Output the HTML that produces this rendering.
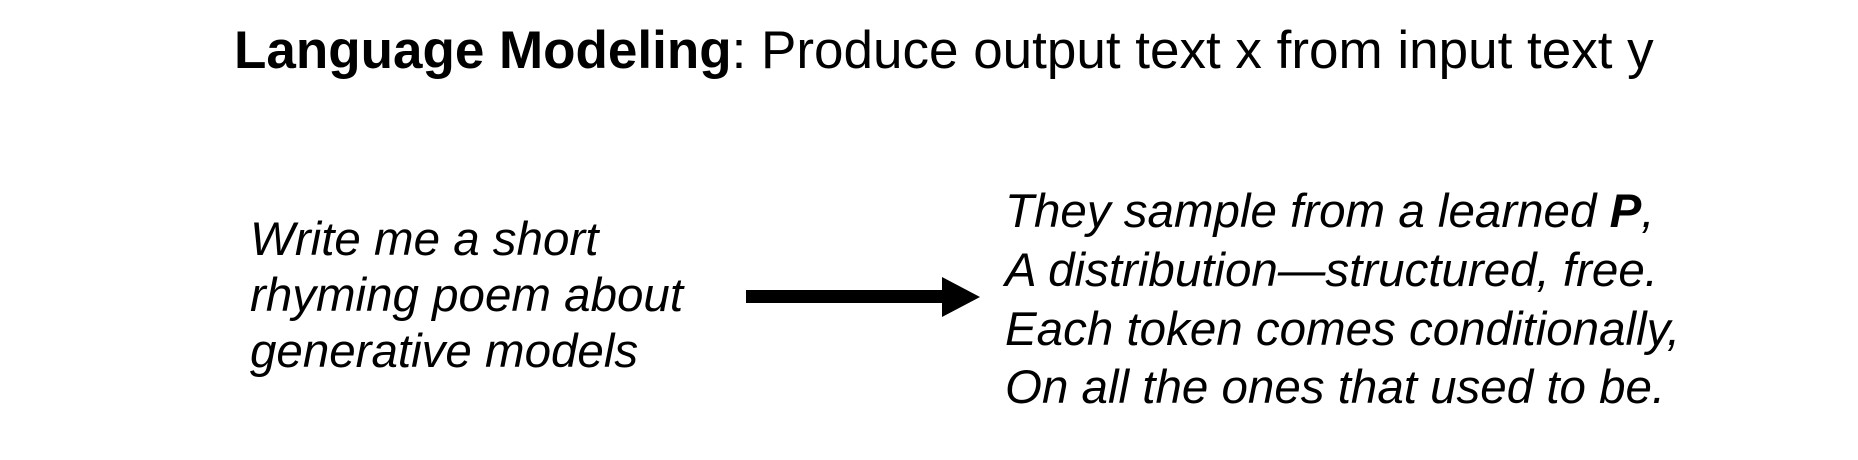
<!DOCTYPE html>
<html><head><meta charset="utf-8"><style>
html,body{margin:0;padding:0;background:#fff;width:1858px;height:460px;overflow:hidden}
svg{display:block}
text{font-family:"Liberation Sans",Arial,sans-serif;fill:#000}
</style></head><body>
<svg width="1858" height="460" viewBox="0 0 1858 460">
<text x="234" y="68" font-size="53"><tspan font-weight="bold">Language Modeling</tspan>: Produce output text x from input text y</text>
<g font-style="italic" font-size="47.5">
<text x="250" y="255">Write me a short</text>
<text x="250" y="311">rhyming poem about</text>
<text x="250" y="367">generative models</text>
<text x="1005" y="227">They sample from a learned <tspan font-weight="bold">P</tspan>,</text>
<text x="1005" y="286">A distribution—structured, free.</text>
<text x="1005" y="345">Each token comes conditionally,</text>
<text x="1005" y="403">On all the ones that used to be.</text>
</g>
<rect x="746" y="290" width="198" height="13" fill="#000"/>
<polygon points="942,277 980,297 942,317" fill="#000"/>
</svg>
</body></html>
